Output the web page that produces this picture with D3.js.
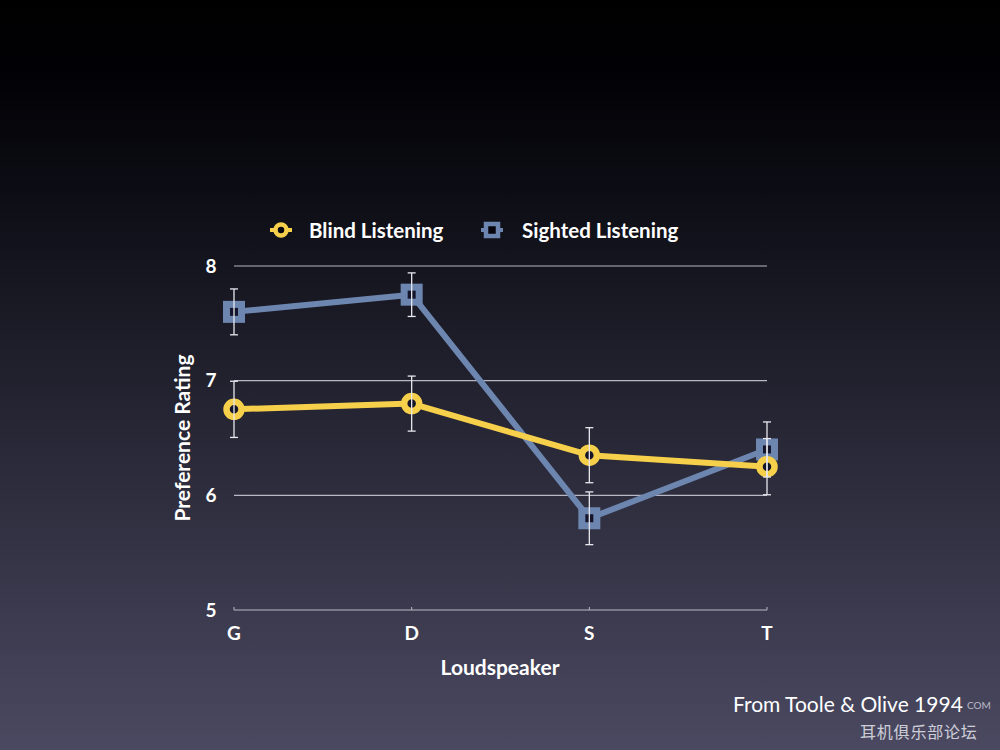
<!DOCTYPE html>
<html><head><meta charset="utf-8">
<script src="https://cdn.jsdelivr.net/npm/d3@7"></script>
<style>html,body{margin:0;padding:0;background:#000;}svg{display:block;}</style>
</head><body>
<script>
const categories = ["G","D","S","T"];
const blindValues = [6.75, 6.8, 6.35, 6.25];
const blindErr = [0.245, 0.24, 0.24, 0.245];
const sightedValues = [7.6, 7.75, 5.8, 6.4];
const sightedErr = [0.2, 0.19, 0.23, 0.24];
const yTicks = [5, 6, 7, 8];
const seriesNames = ["Blind Listening", "Sighted Listening"];

const W = 1000, H = 750;
const svg = d3.select("body").append("svg").attr("width", W).attr("height", H);
const defs = svg.append("defs");
const grad = defs.append("linearGradient").attr("id","bg").attr("x1",0).attr("y1",0).attr("x2",0).attr("y2",1);
grad.append("stop").attr("offset","0%").attr("stop-color","#000000");
grad.append("stop").attr("offset","12%").attr("stop-color","#020207");
grad.append("stop").attr("offset","100%").attr("stop-color","#4a4961");
svg.append("rect").attr("width",W).attr("height",H).attr("fill","url(#bg)");

const font = "'Lato','Open Sans',sans-serif";
const x = d3.scalePoint().domain(categories).range([234, 767]);
const y = d3.scaleLinear().domain([5, 8]).range([610, 266]);

svg.append("g").selectAll("line").data(yTicks).join("line")
  .attr("x1", 234).attr("x2", 767).attr("y1", d=>y(d)).attr("y2", d=>y(d))
  .attr("stroke", "#b8b8c4").attr("stroke-width", 1.2);
svg.append("g").selectAll("line").data(categories).join("line")
  .attr("x1", d=>x(d)).attr("x2", d=>x(d)).attr("y1", y(5)-3).attr("y2", y(5))
  .attr("stroke", "#b8b8c4").attr("stroke-width", 1);

svg.append("g").selectAll("text").data(yTicks).join("text")
  .attr("x", 211).attr("y", d=>y(d)).attr("dy","0.35em").attr("text-anchor","middle")
  .attr("fill","#fff").attr("font-family",font).attr("font-weight","bold").attr("font-size",19)
  .text(d=>d);
svg.append("g").selectAll("text").data(categories).join("text")
  .attr("x", d=>x(d)).attr("y", 633).attr("dy","0.35em").attr("text-anchor","middle")
  .attr("fill","#fff").attr("font-family",font).attr("font-weight","bold").attr("font-size",19)
  .text(d=>d);

svg.append("text").attr("transform","translate(190,438) rotate(-90)").attr("text-anchor","middle")
  .attr("fill","#fff").attr("font-family",font).attr("font-size",21).attr("font-weight","bold").text("Preference Rating");
svg.append("text").attr("x",500).attr("y",668).attr("dy","0.35em").attr("text-anchor","middle")
  .attr("fill","#fff").attr("font-family",font).attr("font-size",21).attr("font-weight","bold").text("Loudspeaker");

const yellow = "#f6cf4b", blue = "#6d86b0";
const blind = categories.map((c,i)=>({c, v: blindValues[i], e: blindErr[i]}));
const sighted = categories.map((c,i)=>({c, v: sightedValues[i], e: sightedErr[i]}));
const line = d3.line().x(d=>x(d.c)).y(d=>y(d.v));

function errorBars(data){
  const g = svg.append("g").attr("stroke","#e8e8ee").attr("stroke-width",1.3);
  data.forEach(d=>{
    const cx = x(d.c);
    g.append("line").attr("x1",cx).attr("x2",cx).attr("y1",y(d.v+d.e)).attr("y2",y(d.v-d.e));
    g.append("line").attr("x1",cx-4).attr("x2",cx+4).attr("y1",y(d.v+d.e)).attr("y2",y(d.v+d.e));
    g.append("line").attr("x1",cx-4).attr("x2",cx+4).attr("y1",y(d.v-d.e)).attr("y2",y(d.v-d.e));
  });
}

svg.append("path").datum(sighted).attr("d",line).attr("fill","none").attr("stroke",blue).attr("stroke-width",6).attr("stroke-linejoin","round");
svg.append("g").selectAll("rect").data(sighted).join("rect")
  .attr("x",d=>x(d.c)-7.5).attr("y",d=>y(d.v)-7.5).attr("width",15).attr("height",15)
  .attr("fill","#14142a").attr("stroke",blue).attr("stroke-width",7);

svg.append("path").datum(blind).attr("d",line).attr("fill","none").attr("stroke",yellow).attr("stroke-width",6).attr("stroke-linejoin","round");
svg.append("g").selectAll("circle").data(blind).join("circle")
  .attr("cx",d=>x(d.c)).attr("cy",d=>y(d.v)).attr("r",7.5)
  .attr("fill","#15152a").attr("stroke",yellow).attr("stroke-width",6.5);

errorBars(sighted);
errorBars(blind);

const lg = svg.append("g");
lg.append("line").attr("x1",270).attr("x2",292).attr("y1",230).attr("y2",230).attr("stroke",yellow).attr("stroke-width",4);
lg.append("circle").attr("cx",281).attr("cy",230).attr("r",5.5).attr("fill","#06060c").attr("stroke",yellow).attr("stroke-width",4.5);
lg.append("text").attr("x",309).attr("y",231).attr("dy","0.35em").attr("fill","#fff").attr("font-family",font)
  .attr("font-size",20.5).attr("font-weight","bold").text(seriesNames[0]);
lg.append("line").attr("x1",481).attr("x2",503).attr("y1",230).attr("y2",230).attr("stroke",blue).attr("stroke-width",4);
lg.append("rect").attr("x",486).attr("y",224).attr("width",12).attr("height",12).attr("fill","#06060c").attr("stroke",blue).attr("stroke-width",4.5);
lg.append("text").attr("x",522).attr("y",231).attr("dy","0.35em").attr("fill","#fff").attr("font-family",font)
  .attr("font-size",20.5).attr("font-weight","bold").text(seriesNames[1]);

svg.append("text").attr("x",733).attr("y",705).attr("dy","0.35em").attr("fill","#fff").attr("font-family",font)
  .attr("font-size",21).text("From Toole & Olive 1994");
svg.append("text").attr("x",860).attr("y",732).attr("dy","0.35em").attr("fill","#e6e6ee").attr("opacity",0.85)
  .attr("font-family","'Noto Sans CJK SC',sans-serif").attr("font-size",16).attr("letter-spacing",0.8).text("耳机俱乐部论坛");
svg.append("text").attr("x",967).attr("y",705).attr("dy","0.35em").attr("fill","#d8d8e0").attr("opacity",0.8)
  .attr("font-family",font).attr("font-size",10).text("COM");
</script>
</body></html>
